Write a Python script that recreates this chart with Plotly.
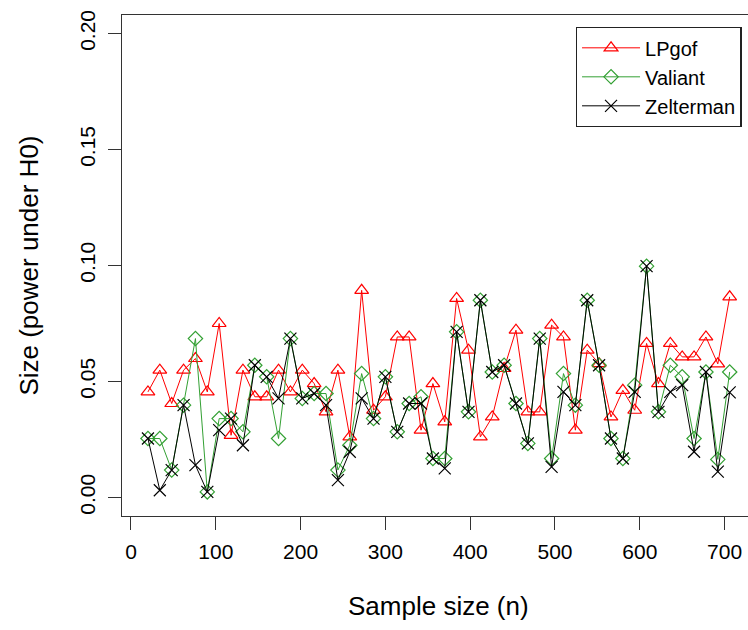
import plotly.graph_objects as go

# Sample sizes (x positions of the points)
sample_size = [20, 34, 48, 62, 76, 90, 104, 118, 132, 146,
               160, 174, 188, 202, 216, 230, 244, 258, 272, 286,
               300, 314, 328, 342, 356, 370, 384, 398, 412, 426,
               440, 454, 468, 482, 496, 510, 524, 538, 552, 566,
               580, 594, 608, 622, 636, 650, 664, 678, 692, 706]

lpgof = [0.0455, 0.0549, 0.0405, 0.0549, 0.0599, 0.0455, 0.0750, 0.0268, 0.0549, 0.0434,
         0.0434, 0.0549, 0.0455, 0.0549, 0.0491, 0.0369, 0.0549, 0.0261, 0.0893, 0.0376,
         0.0434, 0.0692, 0.0692, 0.0290, 0.0491, 0.0326, 0.0858, 0.0635, 0.0261, 0.0347,
         0.0556, 0.0721, 0.0369, 0.0369, 0.0743, 0.0692, 0.0290, 0.0635, 0.0577, 0.0347,
         0.0462, 0.0376, 0.0664, 0.0491, 0.0664, 0.0606, 0.0606, 0.0692, 0.0576, 0.0865]

valiant = [0.0254, 0.0254, 0.0118, 0.0398, 0.0685, 0.0024, 0.0340, 0.0340, 0.0283, 0.0570,
           0.0520, 0.0254, 0.0685, 0.0427, 0.0448, 0.0448, 0.0118, 0.0225, 0.0534, 0.0340,
           0.0520, 0.0283, 0.0405, 0.0434, 0.0168, 0.0168, 0.0714, 0.0369, 0.0850, 0.0541,
           0.0570, 0.0405, 0.0233, 0.0685, 0.0168, 0.0534, 0.0398, 0.0850, 0.0570, 0.0254,
           0.0168, 0.0484, 0.0997, 0.0369, 0.0570, 0.0520, 0.0254, 0.0541, 0.0164, 0.0541]

zelterman = [0.0254, 0.0031, 0.0118, 0.0398, 0.0139, 0.0024, 0.0290, 0.0340, 0.0225, 0.0570,
             0.0520, 0.0427, 0.0685, 0.0427, 0.0448, 0.0398, 0.0075, 0.0197, 0.0427, 0.0340,
             0.0520, 0.0283, 0.0405, 0.0405, 0.0168, 0.0125, 0.0714, 0.0369, 0.0850, 0.0541,
             0.0570, 0.0405, 0.0233, 0.0685, 0.0132, 0.0455, 0.0398, 0.0850, 0.0570, 0.0254,
             0.0168, 0.0455, 0.0997, 0.0369, 0.0455, 0.0484, 0.0197, 0.0541, 0.0111, 0.0453]

x_ticks = [0, 100, 200, 300, 400, 500, 600, 700]
y_ticks = [0.00, 0.05, 0.10, 0.15, 0.20]

FONT = "Liberation Sans, Arial, sans-serif"
RED = "#FF0000"
GREEN = "#33A033"
BLACK = "#000000"

fig = go.Figure()
fig.add_trace(go.Scatter(
    x=sample_size, y=lpgof, name="LPgof", mode="lines+markers",
    line=dict(color=RED, width=1),
    marker=dict(symbol="triangle-up-open", size=12, color=RED, line=dict(width=1.2, color=RED)),
))
fig.add_trace(go.Scatter(
    x=sample_size, y=valiant, name="Valiant", mode="lines+markers",
    line=dict(color=GREEN, width=1),
    marker=dict(symbol="diamond-open", size=11, color=GREEN, line=dict(width=1.2, color=GREEN)),
))
fig.add_trace(go.Scatter(
    x=sample_size, y=zelterman, name="Zelterman", mode="lines+markers",
    line=dict(color=BLACK, width=1),
    marker=dict(symbol="x-thin-open", size=12, color=BLACK, line=dict(width=1.2, color=BLACK)),
))

fig.update_layout(
    width=748, height=630,
    margin=dict(l=122, r=0, t=15, b=114),
    paper_bgcolor="white", plot_bgcolor="white",
    font=dict(family=FONT, color="#000000", size=21),
    showlegend=True,
    legend=dict(
        x=0.99, xanchor="right", y=0.976, yanchor="top",
        bordercolor="#222222", borderwidth=1.3, bgcolor="white",
        font=dict(family=FONT, size=20, color="#000000"),
        tracegroupgap=0, itemwidth=58,
    ),
    xaxis=dict(
        range=[-10.6, 727.6], tickmode="array", tickvals=x_ticks,
        ticktext=[str(v) for v in x_ticks],
        showgrid=False, zeroline=False,
        showline=True, mirror=True, linecolor="#333333", linewidth=1.3,
        ticks="outside", ticklen=13, tickwidth=1.3, tickcolor="#333333",
        tickfont=dict(family=FONT, size=21, color="#000000"),
        ticklabelstandoff=4,
    ),
    yaxis=dict(
        range=[-0.008, 0.208], tickmode="array", tickvals=y_ticks,
        ticktext=["%.2f" % v for v in y_ticks],
        tickangle=-90,
        showgrid=False, zeroline=False,
        showline=True, mirror=False, linecolor="#333333", linewidth=1.3,
        ticks="outside", ticklen=13, tickwidth=1.3, tickcolor="#333333",
        tickfont=dict(family=FONT, size=21, color="#000000"),
        ticklabelstandoff=4,
    ),
    annotations=[
        dict(text="Sample size (n)", xref="paper", yref="paper",
             x=0.506, y=-0.18, xanchor="center", yanchor="middle",
             showarrow=False, font=dict(family=FONT, size=26, color="#000000")),
        dict(text="Size (power under H0)", xref="paper", yref="paper",
             x=-0.150, y=0.5, xanchor="center", yanchor="middle", textangle=-90,
             showarrow=False, font=dict(family=FONT, size=26, color="#000000")),
    ],
)

fig.write_html("out.html")
